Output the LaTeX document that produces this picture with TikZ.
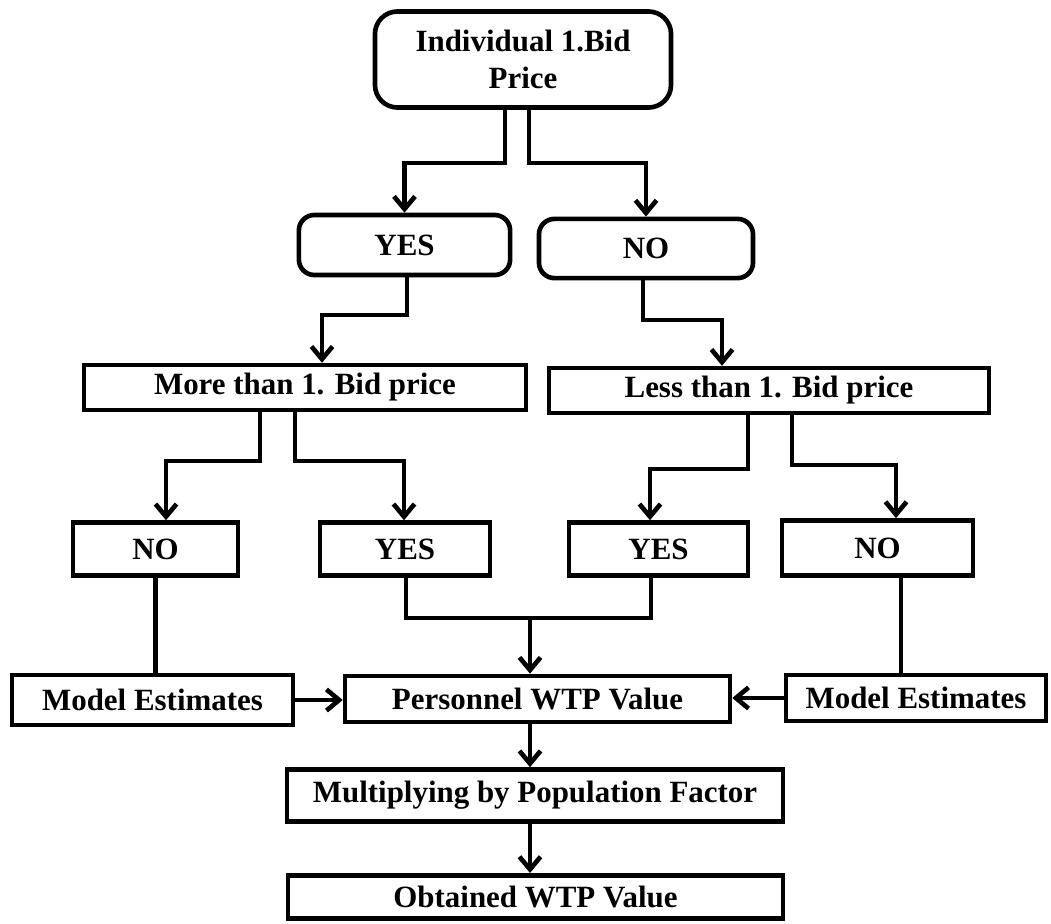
\documentclass[tikz,border=0pt]{standalone}
\usepackage{fontspec}
\setmainfont{Liberation Serif}
\usetikzlibrary{arrows.meta}

\begin{document}
\begin{tikzpicture}[x=0.025cm, y=-0.025cm, line width=3.3pt,
  >={Straight Barb[length=9pt,width=15pt]},
  box/.style={draw, inner sep=0pt, align=center, font=\fontsize{22}{26}\selectfont\bfseries},
  rbox/.style={box, rounded corners=11pt}]
\useasboundingbox (0,0) rectangle (1051,923);
\node [rbox, rounded corners=16pt, minimum width=7.4cm, minimum height=2.4cm] (top) at (523,59.5) {Individual 1.Bid\\Price};
\node [rbox, minimum width=5.28cm, minimum height=1.5cm] (yes1) at (404.5,245) {YES};
\node [rbox, minimum width=5.35cm, minimum height=1.48cm] (no1) at (646,248.5) {NO};
\node [box, minimum width=11.05cm, minimum height=1.12cm] (more) at (305,387.5) {More than 1. Bid price};
\node [box, minimum width=11cm, minimum height=1.12cm] (less) at (769,390.5) {Less than 1. Bid price};
\node [box, minimum width=4.12cm, minimum height=1.32cm] (no2) at (155.5,549) {NO};
\node [box, minimum width=4.25cm, minimum height=1.32cm] (yes2) at (405,549) {YES};
\node [box, minimum width=4.48cm, minimum height=1.32cm] (yes3) at (658.5,549) {YES};
\node [box, minimum width=4.78cm, minimum height=1.38cm] (no3) at (877.5,548) {NO};
\node [box, minimum width=7.02cm, minimum height=1.25cm] (modl) at (152.5,700) {Model Estimates};
\node [box, minimum width=9.62cm, minimum height=1.15cm] (pers) at (537.5,699) {Personnel WTP Value};
\node [box, minimum width=6.5cm, minimum height=1.15cm] (modr) at (916,698) {Model Estimates};
\node [box, minimum width=12.4cm, minimum height=1.3cm] (mult) at (535,795.5) {Multiplying by Population Factor};
\node [box, minimum width=12.38cm, minimum height=1.085cm] (obt) at (535.5,897) {Obtained WTP Value};
\coordinate (t1) at (505,163);
\coordinate (t2) at (529,163);
\coordinate (y1) at (407,315);
\coordinate (y2) at (322,315);
\coordinate (n1) at (643,320);
\coordinate (n2) at (722,320);
\coordinate (m1) at (260,461);
\coordinate (m3) at (166,461);
\coordinate (m2) at (295,461);
\coordinate (m4) at (404,461);
\coordinate (l1) at (748,469);
\coordinate (l3) at (650,469);
\coordinate (l2) at (792,465);
\coordinate (l4) at (896,465);
\coordinate (j1) at (406,618);
\coordinate (j) at (530,618);
\coordinate (j2) at (651,618);
\coordinate (d2) at (901,620);
\draw [->] (top.south -| t1) -- (t1) -| (yes1);
\draw [->] (top.south -| t2) -- (t2) -| (no1);
\draw [->] (yes1.south -| y1) -- (y1) -- (y2) -- (y2 |- more.north);
\draw [->] (no1.south -| n1) -- (n1) -- (n2) -- (n2 |- less.north);
\draw [->] (more.south -| m1) -- (m1) -- (m3) -- (m3 |- no2.north);
\draw [->] (more.south -| m2) -- (m2) -- (m4) -- (m4 |- yes2.north);
\draw [->] (less.south -| l1) -- (l1) -- (l3) -- (l3 |- yes3.north);
\draw [->] (less.south -| l2) -- (l2) -- (l4) -- (l4 |- no3.north);
\draw (yes2.south -| j1) -- (j1) -- (j2) -- (yes3.south -| j2);
\draw [->] (j) -- (j |- pers.north);
\draw (no2.south) -- (no2.south |- modl.north);
\draw (no3.south -| d2) -- (modr.north -| d2);
\draw [->] (modl.east) -- (modl.east -| pers.west);
\draw [->] (modr.west) -- (modr.west -| pers.east);
\draw [->] (pers.south -| j) -- (mult.north -| j);
\draw [->] (mult.south -| j) -- (obt.north -| j);
\end{tikzpicture}
\end{document}
